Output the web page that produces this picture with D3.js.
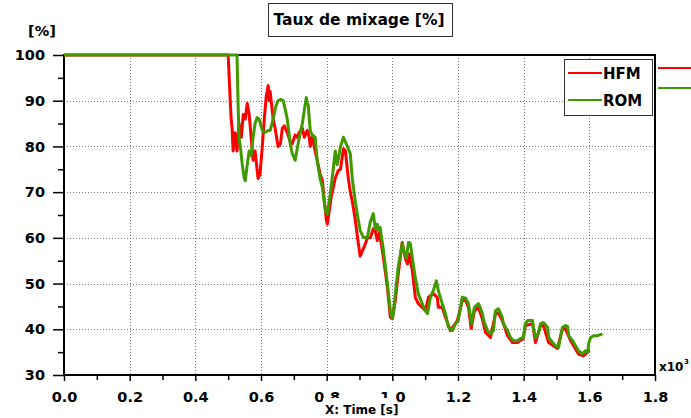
<!DOCTYPE html>
<html><head><meta charset="utf-8">
<script src="https://cdn.jsdelivr.net/npm/d3@7"></script>
<style>
body{margin:0;background:#fff;}
svg{display:block;font-family:"DejaVu Sans",Verdana,sans-serif;font-weight:bold;}
</style></head>
<body><svg id="c" width="691" height="418"></svg>
<script>
const title = "Taux de mixage [%]";
const yUnit = "[%]";
const xLabel = "X: Time [s]";
const xMult = "x10";
const xMultExp = "3";
const seriesNames = ["HFM", "ROM"];
const xTicks = [0,0.2,0.4,0.6,0.8,1.0,1.2,1.4,1.6,1.8];
const yTicks = [30,40,50,60,70,80,90,100];

const hfmT = [0,0.5,0.505,0.509,0.512,0.515,0.521,0.527,0.533,0.540,0.546,0.552,0.558,0.564,0.570,0.576,0.582,0.588,0.591,0.597,0.604,0.610,0.616,0.622,0.625,0.628,0.634,0.637,0.643,0.652,0.659,0.665,0.671,0.680,0.689,0.695,0.704,0.710,0.716,0.726,0.732,0.741,0.747,0.750,0.756,0.762,0.771,0.780,0.787,0.793,0.799,0.802,0.808,0.814,0.826,0.835,0.842,0.848,0.851,0.857,0.863,0.866,0.872,0.878,0.887,0.896,0.902,0.908,0.918,0.924,0.933,0.942,0.948,0.954,0.960,0.967,0.973,0.985,0.994,1.0,1.009,1.018,1.030,1.040,1.046,1.052,1.061,1.070,1.079,1.091,1.101,1.110,1.125,1.137,1.140,1.152,1.162,1.177,1.198,1.213,1.223,1.232,1.240,1.250,1.262,1.274,1.284,1.299,1.314,1.323,1.335,1.351,1.366,1.381,1.399,1.405,1.427,1.436,1.451,1.460,1.476,1.503,1.518,1.527,1.543,1.567,1.582,1.595,1.600];
const hfmV = [100,100,92,86,84,79,83,79,85,82,87,86,89.4,87,82,77,79,75,73,74,80,86,91,93.3,90,92,88,86,84,80,80.5,84,84.5,83,81,80.6,82.5,82,83,84,82,83.5,82,80,82,80,77,74,72.5,68,64,63,66,69,73,74.7,75,78,79.5,79,75,73,70,68,64,59,56,57,58.7,60,60,62,61.6,59.4,61,58.5,55.6,49.2,42.6,42.3,46.3,52.1,59,55.4,54.3,56.5,52.8,47,45.6,44.8,44,47,47.8,47,44.8,44.8,42.6,39.7,41.9,46.3,46.3,44.8,40.2,44,44.8,42.3,39.3,38.2,43.4,43.6,41.9,38.6,37.1,37.1,38,40.8,41.2,37.1,40.8,40.8,37.1,35.8,40.1,40.1,37.5,34.6,34.2,35,35.5];

const romT = [0,0.527,0.530,0.533,0.537,0.543,0.549,0.552,0.558,0.564,0.570,0.576,0.582,0.588,0.594,0.598,0.604,0.610,0.622,0.628,0.637,0.646,0.652,0.660,0.668,0.674,0.680,0.689,0.695,0.704,0.713,0.720,0.726,0.732,0.738,0.741,0.744,0.747,0.750,0.756,0.765,0.771,0.780,0.787,0.796,0.802,0.811,0.820,0.826,0.832,0.835,0.842,0.848,0.851,0.857,0.863,0.872,0.878,0.887,0.896,0.902,0.912,0.924,0.933,0.942,0.948,0.954,0.957,0.963,0.973,0.985,0.994,1.0,1.003,1.009,1.018,1.030,1.037,1.043,1.049,1.055,1.061,1.070,1.079,1.091,1.101,1.107,1.116,1.125,1.134,1.140,1.152,1.162,1.171,1.183,1.192,1.201,1.213,1.223,1.232,1.241,1.250,1.262,1.268,1.274,1.280,1.290,1.299,1.308,1.314,1.323,1.335,1.338,1.351,1.360,1.369,1.381,1.390,1.399,1.405,1.412,1.427,1.430,1.436,1.445,1.451,1.460,1.473,1.476,1.488,1.497,1.506,1.512,1.518,1.527,1.534,1.537,1.549,1.558,1.567,1.579,1.588,1.595,1.598,1.604,1.613,1.625,1.640];
const romV = [100,100,90,82,80,76,73,72.5,76,79,78,82,85,86.3,86,85,83.5,83,83.5,83.5,86,89,90,90.3,90,88,86,80.6,78.5,77,80.6,83,85,88,90.7,89.5,89,86,83.5,82.5,82,77,73,71,66,65.2,69.6,75,79,76,77,80,81.3,82,81,80,78.4,73,68,64,61.6,60.1,60.1,63.5,65.3,62,63,61.6,62.3,57.2,50,44,42.3,43.4,47.8,53.6,58.7,56.5,55.6,59,58.8,55.6,51.3,47.8,45.6,44,43.4,47,48.5,50.6,48.5,45.6,43.4,40.4,39.7,41.2,41.9,47,46.8,45.6,41.2,44.8,45.6,44.8,43.4,41.5,39.7,39,39.7,44,44.5,42.6,41.2,39.7,38.2,37.5,37.5,38,38.2,41.2,41.9,41.9,40.1,38.2,39,41.2,41.5,40.4,38.2,37.1,36.4,36,38.2,40.4,40.8,40.6,38.6,37.5,36.4,35.3,34.6,35.3,34.9,36.9,38.2,38.6,38.6,39];

const colors = ["#ff0000", "#3f9a00"];

const svg = d3.select("#c");
const L = 64, R = 655, T = 55, B = 375;
const x = d3.scaleLinear().domain([0,1.8]).range([L,R]);
const y = d3.scaleLinear().domain([30,100]).range([B,T]);

// grid
const grid = svg.append("g").attr("stroke","#777").attr("stroke-width",1).attr("stroke-dasharray","1,2");
xTicks.filter(v=>v>0 && v<1.8).forEach(v=>{
  grid.append("line").attr("x1",Math.round(x(v))+0.5).attr("x2",Math.round(x(v))+0.5).attr("y1",T).attr("y2",B);
});
yTicks.filter(v=>v>30 && v<100).forEach(v=>{
  grid.append("line").attr("y1",Math.round(y(v))+0.5).attr("y2",Math.round(y(v))+0.5).attr("x1",L).attr("x2",R);
});

// minor ticks
const minorX = d3.range(1,18,2).map(i=>i/10);
const minorY = d3.range(35,100,10);
svg.append("g").attr("transform",`translate(0,${B})`)
  .call(d3.axisBottom(x).tickValues(minorX).tickSize(5).tickFormat(""))
  .call(g=>{g.select(".domain").remove(); g.selectAll("line").attr("stroke","#000").attr("stroke-width",1.5);});
svg.append("g").attr("transform",`translate(${L},0)`)
  .call(d3.axisLeft(y).tickValues(minorY).tickSize(6).tickFormat(""))
  .call(g=>{g.select(".domain").remove(); g.selectAll("line").attr("stroke","#000").attr("stroke-width",1.5);});

// major axes
const xa = svg.append("g").attr("transform",`translate(0,${B})`)
  .call(d3.axisBottom(x).tickValues(xTicks).tickSize(6).tickPadding(11).tickFormat(d3.format(".1f")));
xa.select(".domain").remove();
xa.selectAll("line").attr("stroke","#000").attr("stroke-width",1.5);
xa.selectAll("text").attr("font-size",14.5).attr("font-weight","bold").attr("fill","#000").attr("font-family","DejaVu Sans");

const ya = svg.append("g").attr("transform",`translate(${L},0)`)
  .call(d3.axisLeft(y).tickValues(yTicks).tickSize(11).tickPadding(8).tickFormat(d3.format("d")));
ya.select(".domain").remove();
ya.selectAll("line").attr("stroke","#000").attr("stroke-width",1.5);
ya.selectAll("text").attr("font-size",14.5).attr("font-weight","bold").attr("fill","#000").attr("font-family","DejaVu Sans");

// frame
svg.append("rect").attr("x",L).attr("y",T).attr("width",R-L).attr("height",B-T)
  .attr("fill","none").attr("stroke","#000").attr("stroke-width",2);

// lines
const line = d3.line().x(d=>x(d[0])).y(d=>y(d[1]));
const hfm = hfmT.map((t,i)=>[t,hfmV[i]]);
const rom = romT.map((t,i)=>[t,romV[i]]);
svg.append("path").datum(hfm).attr("d",line).attr("fill","none").attr("stroke",colors[0]).attr("stroke-width",3).attr("stroke-linejoin","round");
svg.append("path").datum(rom).attr("d",line).attr("fill","none").attr("stroke",colors[1]).attr("stroke-width",3).attr("stroke-linejoin","round");

// legend
const lg = svg.append("g");
lg.append("rect").attr("x",564.5).attr("y",59.5).attr("width",88).attr("height",56).attr("fill","#fff").attr("stroke","#333").attr("stroke-width",1);
seriesNames.forEach((n,i)=>{
  const yy = 73 + i*27;
  lg.append("line").attr("x1",568).attr("x2",602).attr("y1",yy).attr("y2",yy).attr("stroke",colors[i]).attr("stroke-width",2);
  lg.append("text").attr("x",603).attr("y",yy+6).attr("font-size",15).attr("fill","#000").text(n);
  svg.append("line").attr("x1",658).attr("x2",691).attr("y1",68+i*20).attr("y2",68+i*20).attr("stroke",colors[i]).attr("stroke-width",2);
});

// title
svg.append("rect").attr("x",268.5).attr("y",3.5).attr("width",184).attr("height",33).attr("fill","#fff").attr("stroke","#333").attr("stroke-width",1);
svg.append("text").attr("x",359).attr("y",25).attr("text-anchor","middle").attr("font-size",15.5).attr("fill","#000").text(title);

// y unit
svg.append("text").attr("x",28).attr("y",36).attr("font-size",14.5).attr("fill","#000").text(yUnit);

// x label with white background
svg.append("rect").attr("x",323).attr("y",398).attr("width",73).attr("height",20).attr("fill","#fff");
svg.append("text").attr("x",325).attr("y",414).attr("font-size",12).attr("fill","#000").text(xLabel);

// multiplier
svg.append("text").attr("x",659).attr("y",371).attr("font-size",12).attr("fill","#000").text(xMult);
svg.append("text").attr("x",684).attr("y",364).attr("font-size",7).attr("fill","#000").text(xMultExp);
</script></body></html>
